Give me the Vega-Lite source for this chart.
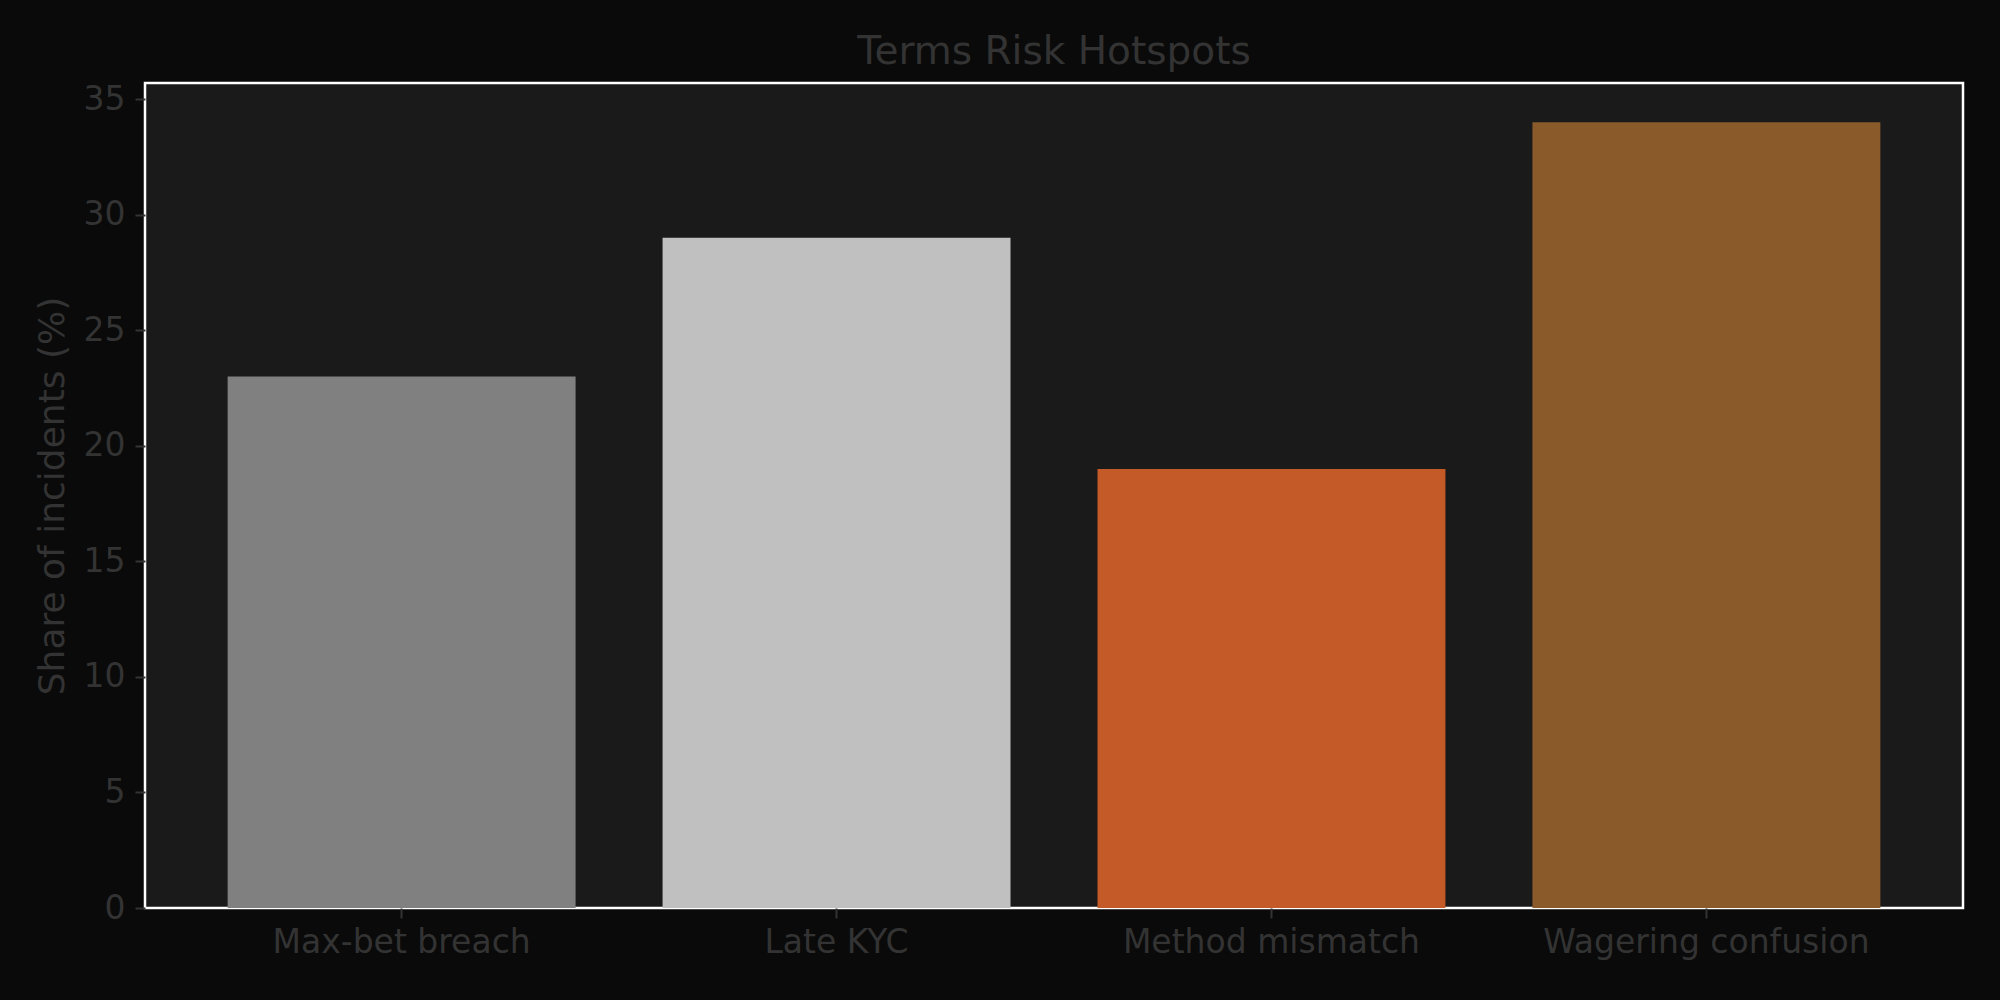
{
  "$schema": "https://vega.github.io/schema/vega-lite/v6.json",
  "description": "Terms risk hotspots bar chart",
  "autosize": "none",
  "width": 1818,
  "height": 825,
  "padding": {"left": 145, "top": 83, "right": 37, "bottom": 92},
  "background": "#0a0a0a",
  "title": {
    "text": "Terms Risk Hotspots",
    "font": "DejaVu Sans",
    "fontSize": 39,
    "fontWeight": "normal",
    "color": "#333333",
    "anchor": "middle",
    "baseline": "bottom",
    "offset": -28
  },
  "data": {
    "values": [
      {"category": "Max-bet breach", "share": 23, "color": "#808080"},
      {"category": "Late KYC", "share": 29, "color": "#c0c0c0"},
      {"category": "Method mismatch", "share": 19, "color": "#c45a27"},
      {"category": "Wagering confusion", "share": 34, "color": "#8b5a2b"}
    ]
  },
  "mark": {"type": "bar"},
  "encoding": {
    "x": {
      "field": "category",
      "type": "nominal",
      "sort": null,
      "scale": {"paddingInner": 0.2, "paddingOuter": 0.19},
      "axis": {
        "title": null,
        "labelAngle": 0,
        "labelLimit": 0,
        "labelFont": "DejaVu Sans",
        "labelFontSize": 33,
        "labelColor": "#333333",
        "labelPadding": 8,
        "tickColor": "#333333",
        "tickSize": 10,
        "tickWidth": 2,
        "domain": false
      }
    },
    "y": {
      "field": "share",
      "type": "quantitative",
      "scale": {"domain": [0, 35.7], "nice": false, "zero": true},
      "axis": {
        "title": "Share of incidents (%)",
        "values": [0, 5, 10, 15, 20, 25, 30, 35],
        "grid": false,
        "domain": false,
        "labelFont": "DejaVu Sans",
        "labelFontSize": 33,
        "labelColor": "#333333",
        "labelPadding": 10,
        "tickColor": "#333333",
        "tickSize": 10,
        "tickWidth": 2,
        "titleFont": "DejaVu Sans",
        "titleFontSize": 36,
        "titleFontWeight": "normal",
        "titleColor": "#333333",
        "titlePadding": 12
      }
    },
    "color": {"field": "color", "type": "nominal", "scale": null, "legend": null}
  },
  "config": {
    "view": {"fill": "#1a1a1a", "stroke": "#ffffff", "strokeWidth": 2.5}
  }
}
